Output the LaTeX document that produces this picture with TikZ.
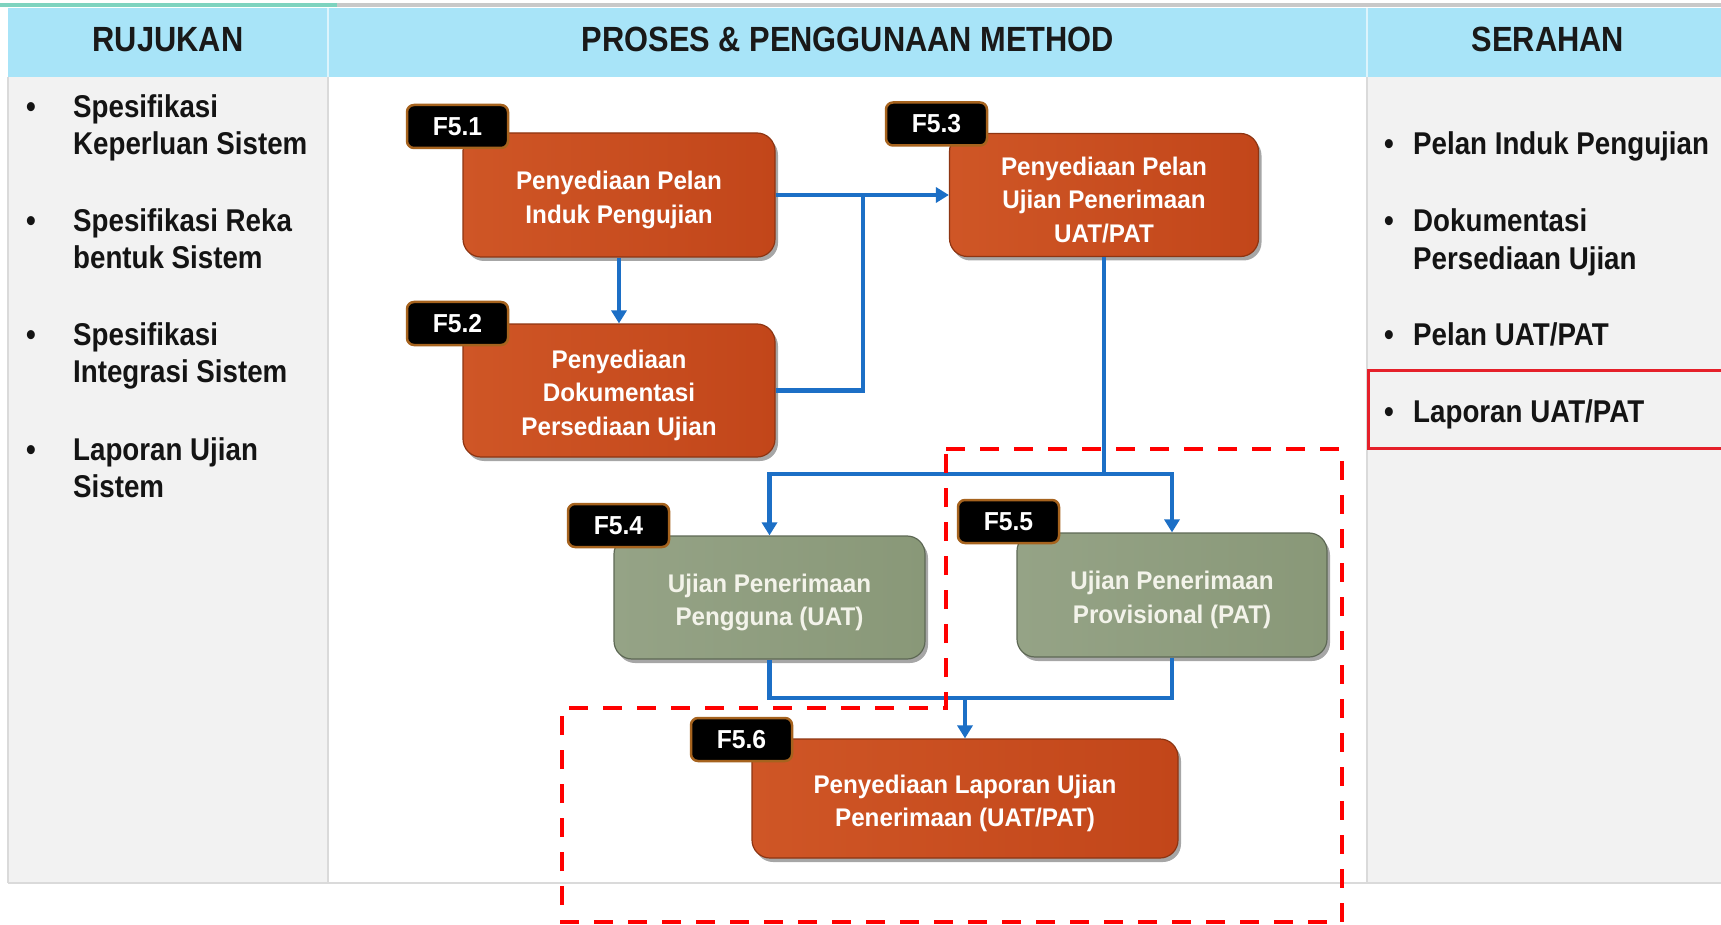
\documentclass[tikz,border=0pt]{standalone}
\usepackage{fontspec}
\usetikzlibrary{arrows.meta,shadows}
\newfontfamily\sidefont{Liberation Sans}[FakeStretch=0.88]
\newfontfamily\boxfont{Liberation Sans}[FakeStretch=0.95]
\newcommand\bxup{\rule{0pt}{28pt}}
\definecolor{hdrblue}{HTML}{A8E4F8}
\definecolor{colgray}{HTML}{F2F2F2}
\definecolor{divgray}{HTML}{DADADA}
\definecolor{teal1}{HTML}{7ED3BF}
\definecolor{topgray}{HTML}{C8C8C8}
\definecolor{olight}{HTML}{CF5626}
\definecolor{odark}{HTML}{C2461A}
\definecolor{obrd}{HTML}{8E3512}
\definecolor{glight}{HTML}{95A386}
\definecolor{gdark}{HTML}{899878}
\definecolor{gbrd}{HTML}{5E6955}
\definecolor{tagbrd}{HTML}{A6631E}
\definecolor{connblue}{HTML}{1C6FC6}
\definecolor{dashred}{HTML}{FF0000}
\definecolor{boxred}{HTML}{E5202A}
\definecolor{gtext}{HTML}{F3F3EA}
\tikzset{
  hdr/.style={font={\sidefont\bfseries\fontsize{35pt}{40pt}\selectfont}, text=black!90, anchor=base, inner sep=0pt},
  side/.style={font={\sidefont\bfseries\fontsize{31.5pt}{37.5pt}\selectfont}, text=black!92, anchor=base west, inner sep=0pt},
  bul/.style={side, anchor=base},
  procbox/.style={rounded corners=18pt, line width=1.2pt, align=center, inner sep=0pt,
    font={\boxfont\bfseries\fontsize{25.5pt}{33.5pt}\selectfont},
    drop shadow={shadow xshift=3pt, shadow yshift=-4pt, opacity=0.35, fill=black}},
  orangebox/.style={procbox, draw=obrd, left color=olight, right color=odark, text=white},
  greenbox/.style={procbox, draw=gbrd, left color=glight, right color=gdark, text=gtext},
  tagbox/.style={rounded corners=7pt, fill=black, draw=tagbrd, line width=2.5pt, text=white,
    font={\boxfont\bfseries\fontsize{26pt}{30pt}\selectfont},
    minimum width=101pt, minimum height=43pt, inner sep=0pt},
  conn/.style={draw=connblue, line width=4.5pt},
  arr/.style={conn, -{Triangle[width=15pt,length=13pt]}},
  reddash/.style={draw=dashred, line width=4pt, dash pattern=on 19pt off 15pt},
  redbox/.style={draw=boxred, line width=3pt}
}
\begin{document}
\begin{tikzpicture}[x=1pt,y=-1pt]
\useasboundingbox (0,0) rectangle (1721,925);
\fill[white] (0,0) rectangle (1721,925);
% top lines
\fill[topgray] (337,3) rectangle (1721,7);
\fill[teal1] (0,3) rectangle (337,7);
% header band
\fill[hdrblue] (8,8) rectangle (1721,77);
% columns
\fill[colgray] (8,77) rectangle (328,883);
\fill[colgray] (1367,77) rectangle (1721,883);
\draw[divgray, line width=1.5pt] (8,77) -- (8,883);
\draw[divgray, line width=1.5pt] (328,77) -- (328,883);
\draw[divgray, line width=1.5pt] (1367,77) -- (1367,883);
\draw[white!60!hdrblue, line width=1.5pt] (328,8) -- (328,77);
\draw[white!60!hdrblue, line width=1.5pt] (1367,8) -- (1367,77);
\draw[divgray, line width=2pt] (8,883) -- (1721,883);
% headers
\node[hdr] (h1) at (168,52) {RUJUKAN};
\node[hdr] (h2) at (848,52) {PROSES \& PENGGUNAAN METHOD};
\node[hdr] (h3) at (1548,52) {SERAHAN};
% left column
\node[bul] (lb1) at (31,118) {•};
\node[side] (l1a) at (73,118) {Spesifikasi};
\node[side] (l1b) at (73,155) {Keperluan Sistem};
\node[bul] (lb2) at (31,232) {•};
\node[side] (l2a) at (73,232) {Spesifikasi Reka};
\node[side] (l2b) at (73,269) {bentuk Sistem};
\node[bul] (lb3) at (31,345) {•};
\node[side] (l3a) at (73,345) {Spesifikasi};
\node[side] (l3b) at (73,382) {Integrasi Sistem};
\node[bul] (lb4) at (31,460) {•};
\node[side] (l4a) at (73,460) {Laporan Ujian};
\node[side] (l4b) at (73,497) {Sistem};
% right column
\node[bul] (rb1) at (1389,155) {•};
\node[side] (r1a) at (1413,155) {Pelan Induk Pengujian};
\node[bul] (rb2) at (1389,232) {•};
\node[side] (r2a) at (1413,232) {Dokumentasi};
\node[side] (r2b) at (1413,270) {Persediaan Ujian};
\node[bul] (rb3) at (1389,345) {•};
\node[side] (r3a) at (1413,345) {Pelan UAT/PAT};
\node[bul] (rb4) at (1389,422) {•};
\node[side] (r4a) at (1413,422) {Laporan UAT/PAT};
\draw[redbox] (1368,370) rectangle (1730,448);
% process boxes
\node[orangebox, minimum width=312pt, minimum height=124pt] (F51) at (619,195) {\bxup Penyediaan Pelan\\Induk Pengujian};
\node[orangebox, minimum width=312pt, minimum height=133pt] (F52) at (619,390.5) {\bxup Penyediaan\\Dokumentasi\\Persediaan Ujian};
\node[orangebox, minimum width=309pt, minimum height=123pt] (F53) at (1104,195) {\bxup Penyediaan Pelan\\Ujian Penerimaan\\UAT/PAT};
\node[greenbox, minimum width=311pt, minimum height=123pt] (F54) at (769.5,597.5) {\bxup Ujian Penerimaan\\Pengguna (UAT)};
\node[greenbox, minimum width=310pt, minimum height=124pt] (F55) at (1172,595) {\bxup Ujian Penerimaan\\Provisional (PAT)};
\node[orangebox, minimum width=426pt, minimum height=119pt] (F56) at (965,798.5) {\bxup Penyediaan Laporan Ujian\\Penerimaan (UAT/PAT)};
% tags
\node[tagbox] (T51) at (457.5,126.5) {F5.1};
\node[tagbox] (T52) at (457.5,323.5) {F5.2};
\node[tagbox] (T53) at (936.5,124) {F5.3};
\node[tagbox] (T54) at (618.5,525.5) {F5.4};
\node[tagbox] (T55) at (1008.5,521.5) {F5.5};
\node[tagbox] (T56) at (741.5,739.5) {F5.6};
% connectors
\coordinate (j1) at (863,195);
\coordinate (j2) at (1104,474);
\coordinate (j3) at (965,698);
\draw[arr] (F51.south) -- (F52.north);
\draw[arr] (F51.east) -- (j1) -- (F53.west);
\draw[conn] (F52.east) -| (j1);
\draw[conn] (F53.south) -- (j2);
\draw[arr] (j2) -| (F54.north);
\draw[arr] (j2) -| (F55.north);
\draw[conn] (F54.south) |- (j3);
\draw[conn] (F55.south) |- (j3);
\draw[arr] (j3) -- (F56.north);
% dashed highlight
\draw[reddash] (946,449) -- (1342,449) -- (1342,922) -- (562,922) -- (562,708) -- (946,708) -- cycle;
\end{tikzpicture}
\end{document}
